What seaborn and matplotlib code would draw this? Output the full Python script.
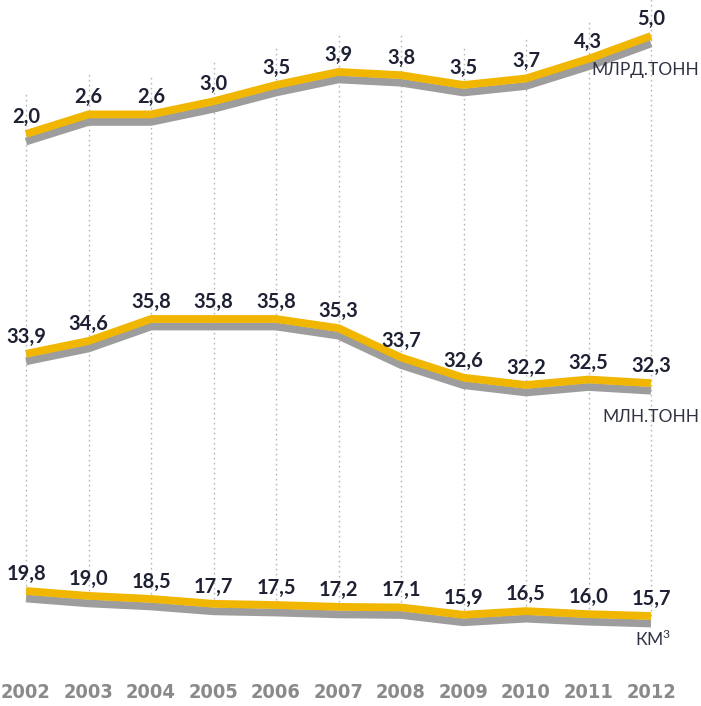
import matplotlib
matplotlib.use("Agg")
import matplotlib.pyplot as plt
import matplotlib.patheffects as pe
from matplotlib import font_manager
from matplotlib.font_manager import FontProperties
import seaborn as sns

# ---- data -------------------------------------------------------------
years = [2002, 2003, 2004, 2005, 2006, 2007, 2008, 2009, 2010, 2011, 2012]
upper_bn_t = [2.0, 2.6, 2.6, 3.0, 3.5, 3.9, 3.8, 3.5, 3.7, 4.3, 5.0]
middle_mln_t = [33.9, 34.6, 35.8, 35.8, 35.8, 35.3, 33.7, 32.6, 32.2, 32.5, 32.3]
lower_km3 = [19.8, 19.0, 18.5, 17.7, 17.5, 17.2, 17.1, 15.9, 16.5, 16.0, 15.7]
unit_labels = ["МЛРД.ТОНН", "МЛН.ТОНН", "КМ$^{3}$"]

# ---- layout -----------------------------------------------------------
W, H = 701, 706
DPI = 100
X_FIRST_PX, X_LAST_PX = 26, 651           # pixel columns of first/last year
# pixel rows (from top) for each band: (value, row) anchors
BANDS = [
    ((5.0, 36), (2.0, 134)),
    ((35.8, 319), (32.2, 385)),
    ((19.8, 591), (15.7, 616)),
]

YELLOW = "#F0B600"
SHADOW = "#9d9d9d"
LABEL_C = "#1e2133"
UNIT_C = "#2f3242"
YEAR_C = "#8a8a8a"
GRID_C = "#b5b5b5"

sns.set_style("white")
plt.rcParams["font.family"] = ["Lato", "DejaVu Sans"]
plt.rcParams["mathtext.fontset"] = "custom"
plt.rcParams["mathtext.rm"] = "Lato"


def condensed_bold_font():
    """Pick a narrow bold face for the year captions, else a compact bold sans."""
    best = None
    for f in font_manager.fontManager.ttflist:
        name = f.name.lower()
        narrow = ("narrow" in name or "condensed" in name
                  or str(f.stretch) in ("condensed", "semi-condensed",
                                        "extra-condensed", "ultra-condensed")
                  or (isinstance(f.stretch, int) and f.stretch < 500))
        bold = f.weight in ("bold", 700, "heavy", 800, 900, "black") or \
            (isinstance(f.weight, int) and f.weight >= 700)
        if narrow and bold and f.style == "normal":
            score = 0 if "liberation" in name else 1
            if best is None or score < best[0]:
                best = (score, f.fname)
    if best:
        return FontProperties(fname=best[1])
    return FontProperties(family=["Roboto", "Liberation Sans", "DejaVu Sans"],
                          weight="bold")


fig = plt.figure(figsize=(W / DPI, H / DPI), dpi=DPI)
fig.patch.set_facecolor("white")

px_per_year = (X_LAST_PX - X_FIRST_PX) / (years[-1] - years[0])
xlim = (years[0] - X_FIRST_PX / px_per_year,
        years[0] + (W - X_FIRST_PX) / px_per_year)


def band_ylim(anchor_hi, anchor_lo):
    (v1, p1), (v2, p2) = anchor_hi, anchor_lo
    b = (p2 - p1) / (v1 - v2)      # pixels per unit
    a = p1 + b * v1                # row of value 0
    return (a - H) / b, a / b


series = [upper_bn_t, middle_mln_t, lower_km3]
axes = []
for vals, band in zip(series, BANDS):
    ax = fig.add_axes([0, 0, 1, 1])
    ax.patch.set_alpha(0)
    ax.set_xlim(*xlim)
    ax.set_ylim(*band_ylim(*band))
    ax.axis("off")
    axes.append(ax)

# dotted vertical guides, from above the upper labels down to the lower line
fig.canvas.draw()
ax_top, ax_bot = axes[0], axes[-1]
inv = ax_top.transData.inverted()
for x, vt, vb in zip(years, upper_bn_t, lower_km3):
    top_disp = ax_top.transData.transform((x, vt))[1] + 40
    bot_disp = ax_bot.transData.transform((x, vb))[1]
    y0 = inv.transform((0, bot_disp))[1]
    y1 = inv.transform((0, top_disp))[1]
    ax_top.plot([x, x], [y0, y1], color=GRID_C, lw=1.0,
                linestyle=(0, (1.2, 2.4)), zorder=1)

line_fx = [pe.SimpleLineShadow(offset=(0, -5.4), shadow_color=SHADOW,
                               alpha=1.0, rho=1.0),
           pe.Normal()]

for ax, vals in zip(axes, series):
    sns.lineplot(x=years, y=vals, ax=ax, color=YELLOW, linewidth=5.6,
                 solid_joinstyle="round", solid_capstyle="butt",
                 path_effects=line_fx, zorder=3)
    ax.axis("off")
    for x, v in zip(years, vals):
        ax.annotate(f"{v:.1f}".replace(".", ","), (x, v),
                    xytext=(0, 17), textcoords="offset pixels",
                    ha="center", va="center", fontsize=14.5,
                    fontweight="bold", color=LABEL_C, zorder=4)

# unit captions under the last point of each line
axes[0].annotate(unit_labels[0], (years[-1], upper_bn_t[-1]),
                 xytext=(48, -34), textcoords="offset pixels",
                 ha="right", va="center", fontsize=12.5, color=UNIT_C)
axes[1].annotate(unit_labels[1], (years[-1], middle_mln_t[-1]),
                 xytext=(48, -34), textcoords="offset pixels",
                 ha="right", va="center", fontsize=12.5, color=UNIT_C)
axes[2].annotate(unit_labels[2], (years[-1], lower_km3[-1]),
                 xytext=(2, -23), textcoords="offset pixels",
                 ha="center", va="center", fontsize=12.5, color=UNIT_C)

# year captions along the bottom, sized so each spans about 50 px
year_fp = condensed_bold_font()
year_fp.set_size(10)
probe = fig.text(0, 0, "2002", fontproperties=year_fp)
w10 = probe.get_window_extent(fig.canvas.get_renderer()).width
probe.remove()
year_fp.set_size(min(19.0, 10 * 50 / w10))
for x in years:
    ax_bot.text(x, 1 - 693 / H, str(x), transform=ax_bot.get_xaxis_transform(),
                ha="center", va="center", fontproperties=year_fp, color=YEAR_C)

fig.savefig("out.png", dpi=DPI, facecolor="white")
